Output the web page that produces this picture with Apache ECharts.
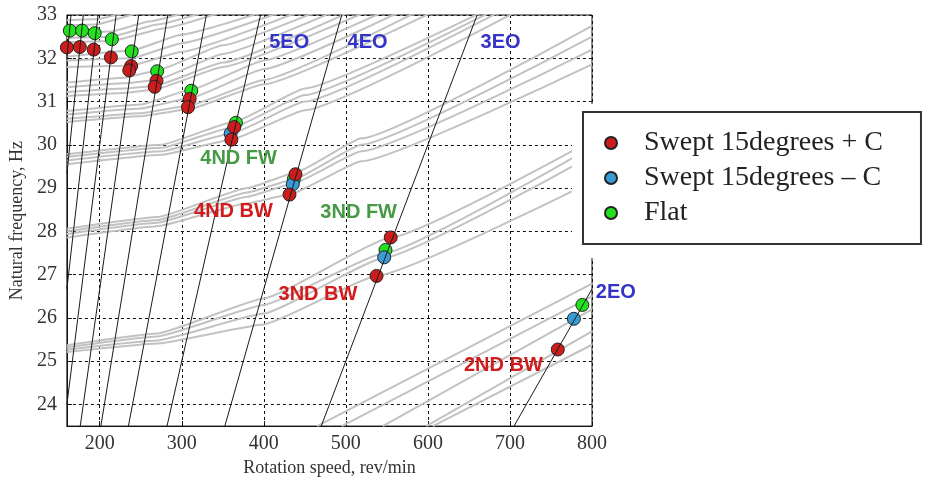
<!DOCTYPE html>
<html>
<head>
<meta charset="utf-8">
<script src="https://cdn.jsdelivr.net/npm/echarts@6/dist/echarts.min.js"></script>
<style>
  html, body { margin: 0; padding: 0; background: #fff; }
  #chart { width: 926px; height: 482px; }
</style>
</head>
<body>
<div id="chart"></div>
<script>
// Axis ranges
const speedRange = [160, 800];     // rev/min
const freqRange = [23.5, 33];      // Hz

// Measured resonance crossings [speed, frequency]
const sweptPlusC = [
  [160, 32.25], [175.7, 32.26], [192.7, 32.2], [213.6, 32.02],
  [238.3, 31.82], [236, 31.72], [269.2, 31.48], [267, 31.34],
  [309.6, 31.06], [307.6, 30.87], [364, 30.41], [360.5, 30.12],
  [438.6, 29.32], [431.3, 28.85], [554.7, 27.86], [537.4, 26.97],
  [758.3, 25.27]
];
const sweptMinusC = [
  [359.6, 30.26], [435.3, 29.09], [546.7, 27.4], [777.9, 25.98]
];
const flatBlade = [
  [163.6, 32.64], [178.5, 32.64], [193.9, 32.58], [214.8, 32.44],
  [239, 32.16], [270, 31.7], [311.6, 31.25], [366, 30.51],
  [436.5, 29.2], [548.3, 27.57], [788.3, 26.3]
];

// Predicted mode frequency curves, grouped by nodal diameter family
const nd2Curves = [
  [[465, 23.5], [800, 26.79]],
  [[495, 23.5], [800, 26.5]],
  [[545, 23.5], [800, 26.2]],
  [[598, 23.5], [800, 25.69]],
  [[606, 23.5], [800, 25.38]]
];
const nd3Curves = [
  [[160, 25.37], [270, 25.64], [400, 26.45], [555, 27.86], [800, 30.1]],
  [[160, 25.32], [270, 25.57], [400, 26.3], [547, 27.5], [800, 29.95]],
  [[160, 25.27], [270, 25.48], [400, 26.1], [545, 27.38], [800, 29.75]],
  [[160, 25.21], [270, 25.41], [400, 25.85], [537, 26.97], [800, 29.15]]
];
const nd4Curves = [
  [[160, 28.06], [270, 28.33], [380, 29.0], [439, 29.36], [519, 30.15], [800, 32.75]],
  [[160, 28.0], [270, 28.26], [380, 28.9], [436, 29.2], [519, 30.0], [800, 32.5]],
  [[160, 27.94], [270, 28.2], [380, 28.8], [435, 29.1], [519, 29.85], [800, 32.2]],
  [[160, 27.86], [270, 28.12], [380, 28.65], [431, 28.85], [519, 29.62], [800, 31.86]]
];
const nd5Curves = [
  [[160, 29.78], [275, 30.0], [366, 30.55], [450, 31.3], [680, 33.2]],
  [[160, 29.72], [275, 29.93], [364, 30.42], [450, 31.15], [690, 33.2]],
  [[160, 29.64], [275, 29.85], [360, 30.26], [450, 31.0], [700, 33.2]],
  [[160, 29.55], [275, 29.77], [360, 30.12], [450, 30.8], [720, 33.2]]
];
const nd6Curves = [
  [[160, 30.78], [250, 30.93], [311, 31.27], [400, 31.95], [560, 33.2]],
  [[160, 30.7], [250, 30.84], [310, 31.08], [400, 31.75], [580, 33.2]],
  [[160, 30.6], [250, 30.73], [308, 30.9], [400, 31.5], [600, 33.2]],
  [[160, 30.53], [250, 30.66], [308, 30.82], [400, 31.4], [620, 33.2]]
];
const nd7Curves = [
  [[160, 31.44], [230, 31.55], [270, 31.72], [350, 32.3], [480, 33.2]],
  [[160, 31.33], [230, 31.42], [269, 31.5], [350, 32.1], [500, 33.2]],
  [[160, 31.22], [230, 31.3], [267, 31.36], [350, 31.9], [520, 33.2]],
  [[160, 31.13], [230, 31.2], [267, 31.28], [350, 31.8], [540, 33.2]]
];
const nd8Curves = [
  [[160, 32.04], [239, 32.18], [300, 32.55], [420, 33.2]],
  [[160, 31.95], [238, 32.0], [300, 32.35], [440, 33.2]],
  [[160, 31.8], [237, 31.83], [300, 32.15], [460, 33.2]]
];
const nd9Curves = [
  [[160, 32.58], [214, 32.62], [260, 32.85], [330, 33.2]],
  [[160, 32.47], [214, 32.5], [270, 32.78], [350, 33.2]],
  [[160, 32.37], [214, 32.4], [280, 32.7], [370, 33.2]]
];
const nd10Curves = [
  [[160, 32.88], [195, 32.9], [240, 33.1]],
  [[160, 32.76], [195, 32.78], [250, 33.05], [270, 33.2]]
];

// Engine order excitation lines (f = EO x speed / 60), end points inside the axes
const eoLines = [
  [[705, 23.5], [800, 26.67]],     // 2EO
  [[470, 23.5], [660, 33]],        // 3EO
  [[352.5, 23.5], [495, 33]],      // 4EO
  [[282, 23.5], [396, 33]],        // 5EO
  [[235, 23.5], [330, 33]],        // 6EO
  [[201.4, 23.5], [282.9, 33]],    // 7EO
  [[176.25, 23.5], [247.5, 33]],   // 8EO
  [[160, 24], [220, 33]],          // 9EO
  [[160, 26.67], [198, 33]],       // 10EO
  [[160, 29.33], [180, 33]],       // 11EO
  [[160, 32], [165, 33]]           // 12EO
];

// Annotations
const eoLabels = [
  ['5EO', [431, 32.36]], ['4EO', [526.5, 32.36]], ['3EO', [688.6, 32.36]], ['2EO', [829, 26.58]]
];
const fwLabels = [
  ['4ND FW', [369.3, 29.69]], ['3ND FW', [515.6, 28.43]]
];
const bwLabels = [
  ['4ND BW', [363, 28.47]], ['3ND BW', [466, 26.55]], ['2ND BW', [692, 24.89]]
];

const legendNames = ['Swept 15degrees + C', 'Swept 15degrees \u2013 C', 'Flat'];

const serif = 'Liberation Serif, Times New Roman, serif';
const sans = 'Liberation Sans, Arial, sans-serif';

const chart = echarts.init(document.getElementById('chart'));

const modeFamilies = [nd2Curves, nd3Curves, nd4Curves, nd5Curves, nd6Curves, nd7Curves, nd8Curves, nd9Curves, nd10Curves];
const curveSeries = [];
modeFamilies.forEach(fam => fam.forEach(pts => curveSeries.push({
  type: 'line', data: pts, symbol: 'none', smooth: 0.12, smoothMonotone: 'x',
  lineStyle: { color: '#c2c2c2', width: 2 }, silent: true, z: 1
})));

const eoSeries = eoLines.map(seg => ({
  type: 'line', data: seg, symbol: 'none',
  lineStyle: { color: '#1a1a1a', width: 1 }, silent: true, z: 4
}));

function markerSeries(name, data, color) {
  return {
    name, type: 'scatter', data, symbolSize: 13, clip: false, z: 3,
    itemStyle: { color, borderColor: '#222', borderWidth: 1, opacity: 1 }
  };
}

function labelSeries(items, color) {
  return {
    type: 'scatter', symbolSize: 0, clip: false, silent: true, z: 6,
    itemStyle: { opacity: 1 },
    data: items.map(([text, pos]) => ({ value: pos, text })),
    label: {
      show: true, position: 'inside', color, opacity: 1,
      fontFamily: sans, fontWeight: 'bold', fontSize: 20,
      formatter: p => p.data.text
    }
  };
}

const option = {
  animation: false,
  grid: { left: 63, right: 334, top: 15, bottom: 52, show: true, borderColor: '#111', borderWidth: 1 },
  xAxis: {
    type: 'value', min: speedRange[0], max: speedRange[1], splitNumber: 6,
    name: 'Rotation speed, rev/min', nameLocation: 'middle', nameGap: 31,
    nameTextStyle: { fontFamily: serif, fontSize: 18, color: '#333' },
    axisLine: { lineStyle: { color: '#111' } },
    axisTick: { inside: true, length: 5, lineStyle: { color: '#111' } },
    axisLabel: { showMinLabel: false, fontFamily: serif, fontSize: 20, color: '#333', margin: 8 },
    splitLine: { show: true, lineStyle: { color: '#111', type: [3, 3], width: 1 } }
  },
  yAxis: {
    type: 'value', min: freqRange[0], max: freqRange[1], splitNumber: 9,
    name: 'Natural frequency, Hz', nameLocation: 'middle', nameGap: 37,
    nameTextStyle: { fontFamily: serif, fontSize: 18, color: '#333' },
    axisLine: { show: true, lineStyle: { color: '#111' } },
    axisTick: { show: true, inside: true, length: 5, lineStyle: { color: '#111' } },
    axisLabel: { showMinLabel: false, fontFamily: serif, fontSize: 20, color: '#333', margin: 10 },
    splitLine: { show: true, lineStyle: { color: '#111', type: [3, 3], width: 1 } }
  },
  legend: {
    data: legendNames, orient: 'vertical', left: 583, top: 112, z: 5,
    backgroundColor: '#fff', borderColor: '#333', borderWidth: 2,
    padding: [16, 38, 16, 21], itemGap: 5, itemWidth: 12, itemHeight: 12, icon: 'circle',
    textStyle: { fontFamily: serif, fontSize: 28, color: '#222', lineHeight: 30, padding: [0, 0, 0, 22] }
  },
  graphic: [{
    type: 'rect', left: 572, top: 104, z: 3, silent: true,
    shape: { width: 354, height: 154 }, style: { fill: '#fff' }
  }],
  series: [
    ...curveSeries,
    markerSeries(legendNames[2], flatBlade, '#22e21e'),
    markerSeries(legendNames[1], sweptMinusC, '#3a9ad6'),
    markerSeries(legendNames[0], sweptPlusC, '#cc1c1c'),
    ...eoSeries,
    labelSeries(eoLabels, '#3434c8'),
    labelSeries(fwLabels, '#469a44'),
    labelSeries(bwLabels, '#d21c1c')
  ]
};
chart.setOption(option);
</script>
</body>
</html>
